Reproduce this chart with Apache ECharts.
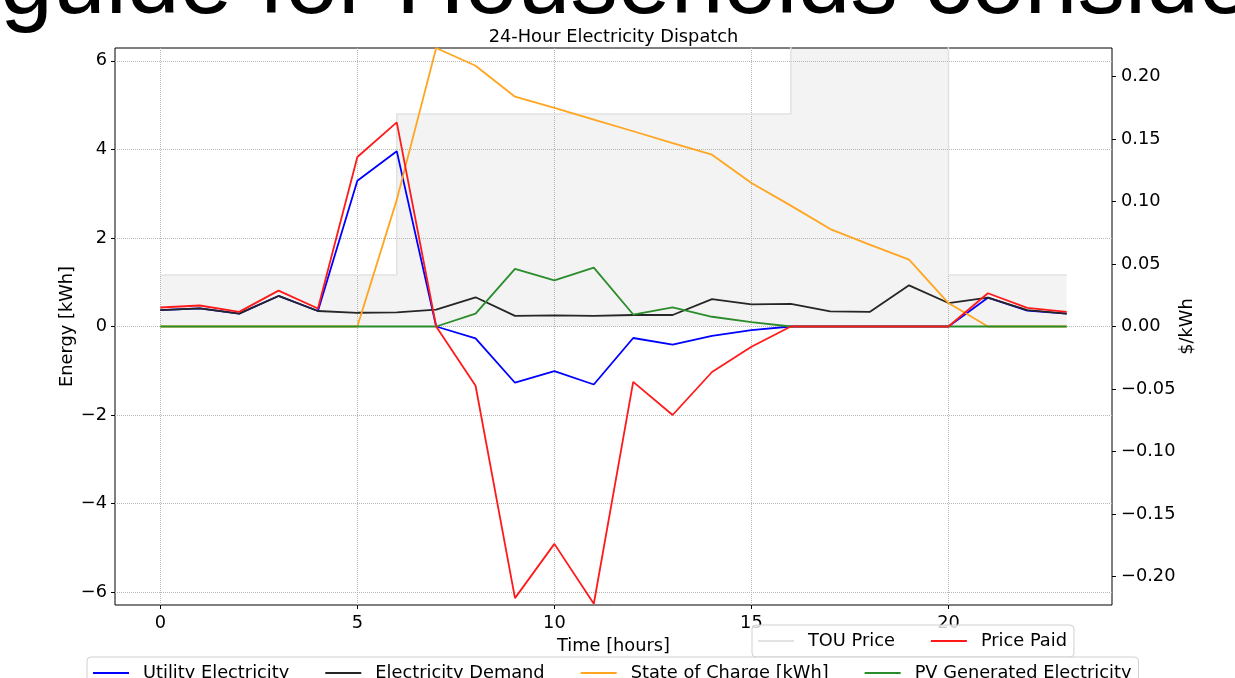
<!DOCTYPE html>
<html>
<head>
<meta charset="utf-8">
<script src="https://cdn.jsdelivr.net/npm/echarts@6/dist/echarts.min.js"></script>
<style>
html,body{margin:0;padding:0;background:#fff;}
#chart{width:1235px;height:678px;}
</style>
</head>
<body>
<div id="chart"></div>
<script>
const hours = [0,1,2,3,4,5,6,7,8,9,10,11,12,13,14,15,16,17,18,19,20,21,22,23];
const utilityElectricity = [0.37,0.41,0.29,0.69,0.35,3.29,3.96,0,-0.27,-1.27,-1.01,-1.31,-0.26,-0.41,-0.21,-0.08,0,0,0,0,0,0.65,0.36,0.29];
const electricityDemand = [0.37,0.41,0.29,0.69,0.35,0.31,0.32,0.38,0.66,0.24,0.25,0.24,0.26,0.26,0.62,0.50,0.51,0.34,0.33,0.93,0.53,0.65,0.37,0.29];
const stateOfCharge = [0,0,0,0,0,0,2.86,6.29,5.89,5.19,4.94,4.67,4.41,4.14,3.88,3.24,2.73,2.20,1.85,1.51,0.53,0,0,0];
const pvGenerated = [0,0,0,0,0,0,0,0,0.29,1.30,1.04,1.33,0.27,0.43,0.22,0.10,0,0,0,0,0,0,0,0];
const touPrice = [0.0413,0.0413,0.0413,0.0413,0.0413,0.0413,0.0413,0.17,0.17,0.17,0.17,0.17,0.17,0.17,0.17,0.17,0.17,0.30,0.30,0.30,0.30,0.0413,0.0413,0.0413];
const pricePaid = [0.0152,0.0168,0.0117,0.0287,0.0144,0.1356,0.1633,0,-0.0474,-0.2173,-0.1739,-0.2218,-0.0443,-0.0708,-0.0364,-0.0162,0,0,0,0,0,0.0266,0.0149,0.0117];

const xTicks = [0,5,10,15,20];
const energyTicks = [-6,-4,-2,0,2,4,6];
const priceTicks = [-0.20,-0.15,-0.10,-0.05,0,0.05,0.10,0.15,0.20];

const FONT = 'DejaVu Sans';
const FS = 17.8;
const pair = arr => hours.map((h,i)=>[h,arr[i]]);
const minus = s => String(s).replace('-', '\u2212');

const chart = echarts.init(document.getElementById('chart'), null, {renderer:'canvas'});

const lineSeries = (name, data, color, yAxisIndex, z, width) => ({
  name, type:'line', data: pair(data), yAxisIndex,
  showSymbol:false, symbol:'none', z,
  lineStyle:{color, width: width||1.8},
  itemStyle:{color},
  emphasis:{disabled:true},
  animation:false
});

const legendText = {fontFamily:FONT, fontSize:FS, color:'#000', padding:[0,0,0,9]};
const tickStyle = {show:true, length:4, inside:false, lineStyle:{color:'#000', width:1}};
const gridLine = {show:true, lineStyle:{color:'#b8b8b8', width:1, type:[1,1]}};
const labelStyle = {fontFamily:FONT, fontSize:FS, color:'#000'};

chart.setOption({
  animation:false,
  backgroundColor:'#fff',
  graphic:[
    {type:'text', x:0, y:-13, z:100, silent:true,
     style:{text:'guide for Households considering', font:'95px "Liberation Sans"', fill:'#000', verticalAlign:'middle', align:'left'}},
    {type:'text', x:613.5, y:37, z:100, silent:true,
     style:{text:'24-Hour Electricity Dispatch', font:FS+'px "DejaVu Sans"', fill:'#000', verticalAlign:'middle', align:'center'}}
  ],
  grid:{left:115, right:123, top:48, bottom:73, show:true, borderColor:'#000', borderWidth:1, backgroundColor:'transparent', containLabel:false},
  xAxis:{
    type:'value', min:-1.15, max:24.15,
    name:'Time [hours]', nameLocation:'middle', nameGap:32, nameMoveOverlap:false,
    nameTextStyle:labelStyle,
    axisLine:{show:false, onZero:false},
    axisTick:Object.assign({customValues:xTicks}, tickStyle),
    axisLabel:Object.assign({margin:9, customValues:xTicks, formatter:v=>minus(v)}, labelStyle),
    splitLine:gridLine
  },
  yAxis:[
    {
      type:'value', min:-6.29, max:6.29, position:'left',
      name:'Energy [kWh]', nameLocation:'middle', nameGap:39, nameRotate:90, nameMoveOverlap:false,
      nameTextStyle:labelStyle,
      axisLine:{show:false, onZero:false},
      axisTick:Object.assign({customValues:energyTicks}, tickStyle),
      axisLabel:Object.assign({margin:8, customValues:energyTicks, formatter:v=>minus(v)}, labelStyle),
      splitLine:gridLine
    },
    {
      type:'value', min:-0.2228, max:0.2228, position:'right',
      name:'$/kWh', nameLocation:'middle', nameGap:66, nameRotate:90, nameMoveOverlap:false,
      nameTextStyle:labelStyle,
      axisLine:{show:false, onZero:false},
      axisTick:Object.assign({customValues:priceTicks}, tickStyle),
      axisLabel:Object.assign({margin:9, customValues:priceTicks, formatter:v=>minus(Number(v).toFixed(2))}, labelStyle),
      splitLine:{show:false}
    }
  ],
  legend:[
    {
      data:['TOU Price','Price Paid'], left:752, top:625, orient:'horizontal',
      itemWidth:36, itemHeight:2, itemGap:36, icon:'rect',
      padding:[7,7,7,6], backgroundColor:'rgba(255,255,255,0.8)',
      borderColor:'#d0d0d0', borderWidth:1, borderRadius:4,
      textStyle:legendText, selectedMode:false, z:20
    },
    {
      data:['Utility Electricity','Electricity Demand','State of Charge [kWh]','PV Generated Electricity'],
      left:87, top:657, orient:'horizontal',
      itemWidth:36, itemHeight:2, itemGap:36, icon:'rect',
      padding:[7,7,7,6], backgroundColor:'rgba(255,255,255,0.8)',
      borderColor:'#d0d0d0', borderWidth:1, borderRadius:4,
      textStyle:legendText, selectedMode:false, z:21
    }
  ],
  series:[
    Object.assign(lineSeries('TOU Price', touPrice, '#e2e2e2', 1, 1, 1.5), {
      step:'start', clip:true,
      areaStyle:{color:'rgba(128,128,128,0.14)', origin:0}
    }),
    lineSeries('Utility Electricity', utilityElectricity, '#0000ff', 0, 2),
    lineSeries('Electricity Demand', electricityDemand, '#262626', 0, 3),
    lineSeries('State of Charge [kWh]', stateOfCharge, '#ffa51f', 0, 4),
    lineSeries('PV Generated Electricity', pvGenerated, '#2a8c2a', 0, 5),
    lineSeries('Price Paid', pricePaid, '#ff1a1a', 1, 6)
  ]
});
</script>
</body>
</html>
